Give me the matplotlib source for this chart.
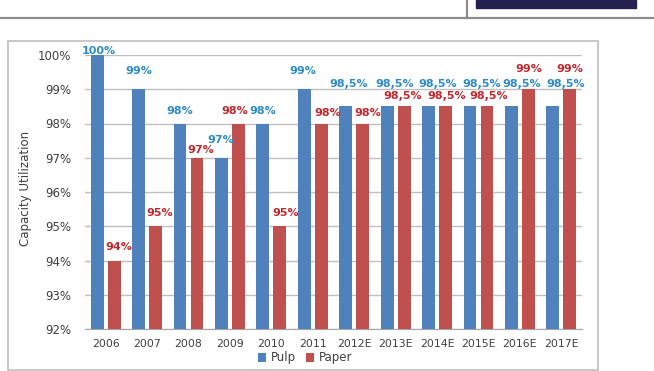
import numpy as np
import matplotlib.pyplot as plt
from matplotlib.patches import Rectangle
from matplotlib.lines import Line2D

# data
years = ['2006', '2007', '2008', '2009', '2010', '2011',
         '2012E', '2013E', '2014E', '2015E', '2016E', '2017E']
pulp = [100, 99, 98, 97, 98, 99, 98.5, 98.5, 98.5, 98.5, 98.5, 98.5]
paper = [94, 95, 97, 98, 95, 98, 98, 98.5, 98.5, 98.5, 99, 99]
pulp_text = ['100%', '99%', '98%', '97%', '98%', '99%',
             '98,5%', '98,5%', '98,5%', '98,5%', '98,5%', '98,5%']
paper_text = ['94%', '95%', '97%', '98%', '95%', '98%',
              '98%', '98,5%', '98,5%', '98,5%', '99%', '99%']

# label placement (pixels from bar top), as the spreadsheet put them
pulp_dx = [2, 0, 0, -1, 0, -1, 3, 8, 9, 12, 10, 13]
pulp_dy = [4, 18, 13, 18, 13, 18, 22, 22, 22, 22, 22, 22]
paper_dx = [5, 4, 4, -4, 6, 6, 5, -1, 1, 2, 0, 0]
paper_dy = [13, 13, 8, 13, 13, 10, 10, 10, 10, 10, 20, 20]

c_pulp, c_paper = '#4F81BD', '#C0504D'
t_pulp, t_paper = '#2E8BC6', '#C0282E'

fig = plt.figure(figsize=(6.54, 3.71), dpi=100)

# page header decoration
fig.add_artist(Line2D([0, 1], [1 - 17.5 / 371] * 2, color='#8c8c8c', lw=1.6))
fig.add_artist(Line2D([467 / 654] * 2, [1 - 17.5 / 371, 1], color='#8c8c8c', lw=1.6))
fig.add_artist(Rectangle((476 / 654, 1 - 8 / 371), 160 / 654, 8 / 371,
                         transform=fig.transFigure, color='#24204F'))
# chart frame
fig.add_artist(Rectangle((8 / 654, 1 - 370 / 371), 590 / 654, 329 / 371,
                         transform=fig.transFigure, fill=False,
                         edgecolor='#BFBFBF', lw=1.2))

ax = fig.add_axes([85 / 654, 1 - 329 / 371, 497 / 654, 274 / 371])
x = np.arange(len(years))
w = 0.31
off = 0.205
ax.bar(x - off, pulp, w, color=c_pulp, label='Pulp', zorder=3)
ax.bar(x + off, paper, w, color=c_paper, label='Paper', zorder=3)

for i in range(len(years)):
    ax.annotate(pulp_text[i], (x[i] - off, pulp[i]), xytext=(pulp_dx[i], pulp_dy[i]),
                textcoords='offset pixels', ha='center', va='center',
                fontsize=8, fontweight='bold', color=t_pulp, zorder=4)
    ax.annotate(paper_text[i], (x[i] + off, paper[i]), xytext=(paper_dx[i], paper_dy[i]),
                textcoords='offset pixels', ha='center', va='center',
                fontsize=8, fontweight='bold', color=t_paper, zorder=4)

ax.set_ylim(92, 100)
ax.set_xlim(-0.5, len(years) - 0.5)
ax.set_yticks(range(92, 101))
ax.set_yticklabels([f'{v}%' for v in range(92, 101)])
ax.set_xticks(x)
ax.set_xticklabels(years)
ax.tick_params(axis='y', length=0, pad=10, labelsize=8.5, labelcolor='#404040')
ax.tick_params(axis='x', length=0, pad=7, labelsize=7.8, labelcolor='#404040')
ax.grid(axis='y', color='#BFBFBF', lw=1, zorder=0)
for s in ['top', 'right', 'left']:
    ax.spines[s].set_visible(False)
ax.spines['bottom'].set_color('#A6A6A6')

fig.text(26 / 654, 1 - 188 / 371, 'Capacity Utilization', rotation=90,
         ha='center', va='center', fontsize=8.5, color='#404040')

fig.legend(loc='center', bbox_to_anchor=(305 / 654, 1 - 358 / 371), ncol=2,
           frameon=False, fontsize=8.5, handlelength=0.7, handleheight=0.7,
           handletextpad=0.4, columnspacing=0.8, labelcolor='#404040')

fig.savefig('out.png', dpi=100)
